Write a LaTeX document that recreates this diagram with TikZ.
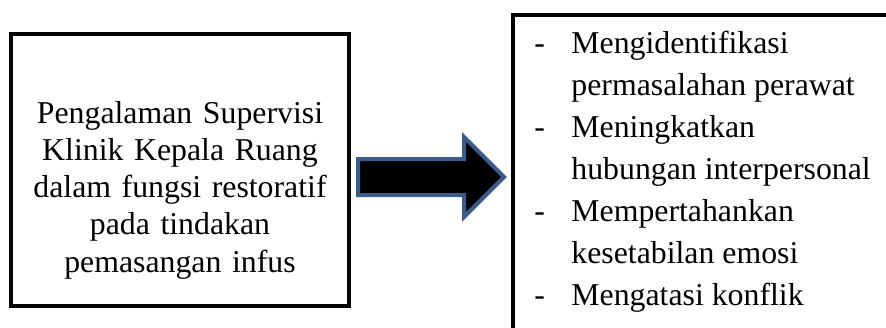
\documentclass[tikz,border=0pt]{standalone}
\usepackage{fontspec}
\setmainfont{Liberation Serif}
\usetikzlibrary{shapes.arrows}
\definecolor{arrowblue}{HTML}{385D8A}
\tikzset{
  box/.style={draw, line width=2pt, rectangle, inner sep=0pt},
  fatarrow/.style={single arrow, draw=arrowblue, fill=black, line width=2pt,
    inner xsep=0pt, inner ysep=8pt, single arrow head extend=11pt,
    minimum width=38pt, minimum height=73pt},
}
\begin{document}
\begin{tikzpicture}[x=0.5pt,y=-0.5pt]
\useasboundingbox (0,0) rectangle (886,327);
\clip (0,0) rectangle (886,327);
% left box
\node[box, minimum width=169pt, minimum height=136pt] (src) at (180,170){};
\node[align=center, text width=165pt, font=\fontsize{15.9}{18.6}\selectfont] (srctext) at (180,190){Pengalaman Supervisi\\Klinik Kepala Ruang\\dalam fungsi restoratif\\pada tindakan\\pemasangan infus};
% right box, runs off the page
\node[box, minimum width=208.5pt, minimum height=172.5pt] (effects) at (721.5,187.5){};
\node[anchor=base west, inner sep=0pt, font=\fontsize{15.9}{21}\selectfont] (effectlist) at (534,53){%
\begin{tabular}[t]{@{}p{18.5pt}@{}l@{}}
- & Mengidentifikasi\\
  & permasalahan perawat\\
- & Meningkatkan\\
  & hubungan interpersonal\\
- & Mempertahankan\\
  & kesetabilan emosi\\
- & Mengatasi konflik
\end{tabular}};
% arrow between them
\node[fatarrow] (arr) at (422,177){};
\end{tikzpicture}
\end{document}
